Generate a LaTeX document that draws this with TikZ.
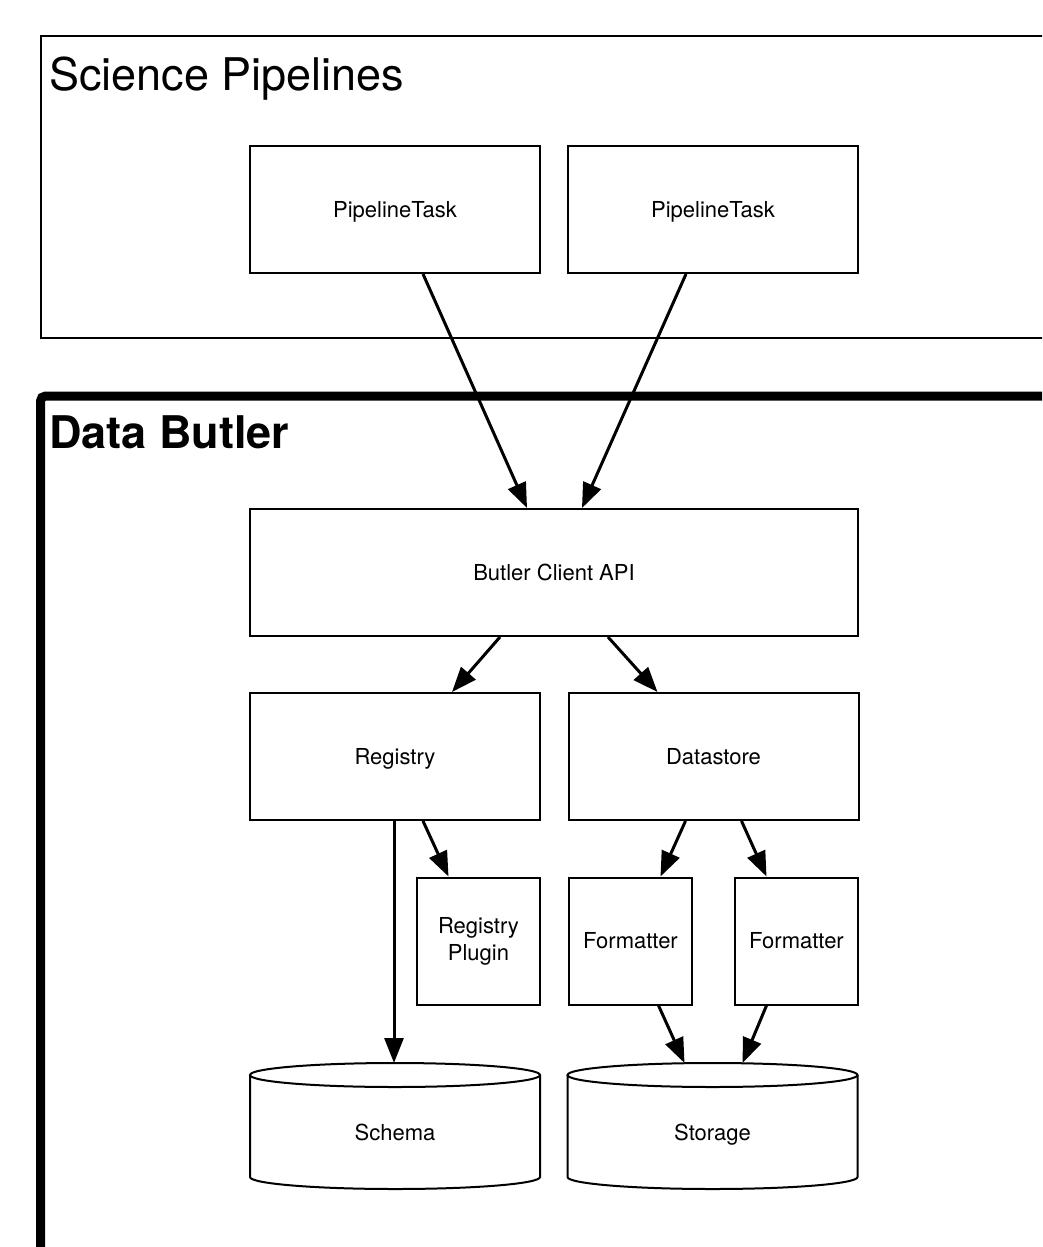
\documentclass[tikz,border=0pt]{standalone}
\usepackage{fontspec}
\setmainfont{TeX Gyre Heros}
\usetikzlibrary{arrows.meta,calc}
\newcommand\drawcyl[1]{%
  \draw[cylline] ($(#1.center)+(-145,58)$) -- ($(#1.center)+(-145,-44)$)
     arc[start angle=180,end angle=360,x radius=145,y radius=12]
     -- ($(#1.center)+(145,58)$);
  \draw[cylline] ($(#1.center)+(0,58)$) ellipse[x radius=145,y radius=12];
}
\begin{document}
\begin{tikzpicture}[x=1pt,y=1pt,
  box/.style={draw,line width=2pt,minimum height=127pt,inner sep=0pt,
    font=\fontsize{22}{27}\selectfont,align=center},
  one/.style={text height=18pt,text depth=2.2pt},
  arr/.style={line width=3pt,-{Triangle[length=25pt,width=19pt]}},
  cylline/.style={line width=2pt},
  cyltext/.style={inner sep=0pt,font=\fontsize{22}{27}\selectfont,text height=18pt,text depth=2.2pt},
  title/.style={anchor=base west,inner sep=0pt}]
\useasboundingbox (0,0) rectangle (1042,-1247);
\clip (0,0) rectangle (1042,-1247);
% frames
\draw[line width=1.5pt] (1100,-36) -- (41,-36) -- (41,-338) -- (1100,-338);
\draw[line width=9pt,rounded corners=5pt] (1100,-396) -- (40.5,-396) -- (40.5,-1300);
\node[title,font=\fontsize{45}{54}\selectfont] (sp) at (49,-90) {Science Pipelines};
\node[title,font=\fontsize{45}{54}\selectfont\bfseries] (db) at (49,-448) {Data Butler};
% boxes
\node[box,one,minimum width=290pt] (pt1) at (395,-209.5) {PipelineTask};
\node[box,one,minimum width=290pt] (pt2) at (713,-209.5) {PipelineTask};
\node[box,one,minimum width=608pt] (api) at (554,-572.5) {Butler Client API};
\node[box,one,minimum width=290pt] (reg) at (395,-756.5) {Registry};
\node[box,one,minimum width=290pt] (ds) at (713.5,-756.5) {Datastore};
\node[box,minimum width=123pt] (plug) at (478.5,-941) {Registry\\Plugin};
\node[box,one,minimum width=123pt] (f1) at (630.5,-941) {Formatter};
\node[box,one,minimum width=123pt] (f2) at (796.5,-941) {Formatter};
% cylinders
\node[cyltext] (schema) at (395,-1133) {Schema};
\node[cyltext] (storage) at (712.5,-1133) {Storage};
\drawcyl{schema}
\drawcyl{storage}
% arrows
\draw[arr] ([xshift=28pt]pt1.south) -- ([xshift=-27pt]api.north);
\draw[arr] ([xshift=-27pt]pt2.south) -- ([xshift=28pt]api.north);
\draw[arr] ([xshift=-54pt]api.south) -- ([xshift=57pt]reg.north);
\draw[arr] ([xshift=54pt]api.south) -- ([xshift=-56pt]ds.north);
\draw[arr] ([xshift=28pt]reg.south) -- ([xshift=-30pt]plug.north);
\draw[arr] ([xshift=-1pt]reg.south) -- ($(schema.center)+(-1,70)$);
\draw[arr] ([xshift=-28pt]ds.south) -- ([xshift=30pt]f1.north);
\draw[arr] ([xshift=28pt]ds.south) -- ([xshift=-30pt]f2.north);
\draw[arr] ([xshift=28pt]f1.south) -- ($(storage.center)+(-28,70)$);
\draw[arr] ([xshift=-30pt]f2.south) -- ($(storage.center)+(30,70)$);
\end{tikzpicture}
\end{document}
